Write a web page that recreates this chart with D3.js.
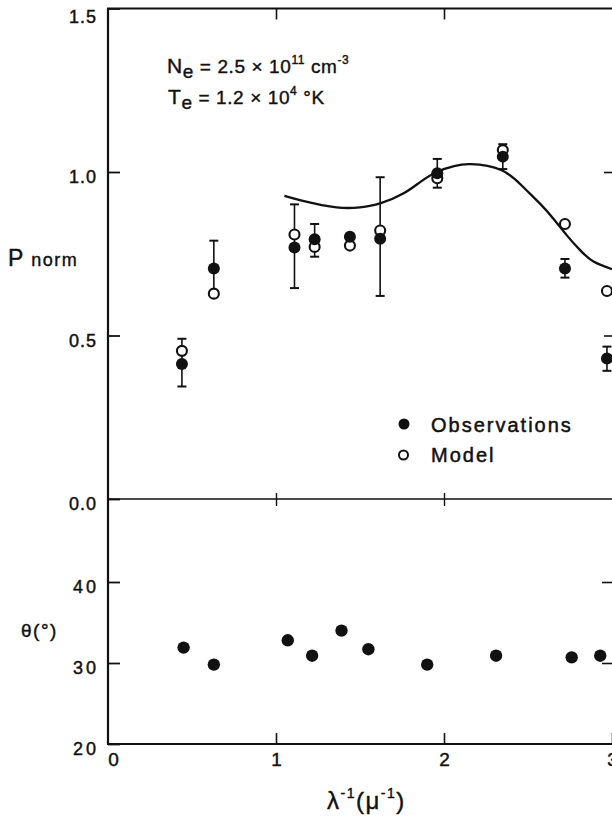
<!DOCTYPE html>
<html><head><meta charset="utf-8">
<script src="https://cdn.jsdelivr.net/npm/d3@7"></script>
<style>
body{margin:0;background:#fff;}
svg{display:block;}
text{font-family:"Liberation Sans",Arial,sans-serif;fill:#111;}
</style></head>
<body><svg id="c" width="612" height="816"></svg>
<script>
// ---- data ----
const obsX   = [0.44, 0.63, 1.11, 1.23, 1.44, 1.62, 1.96, 2.35, 2.72, 2.97];
const obsP   = [0.413, 0.705, 0.769, 0.794, 0.802, 0.796, 0.996, 1.047, 0.705, 0.430];
const errLo  = [0.344, 0.620, 0.645, 0.741, null, 0.621, 0.952, 1.009, 0.677, 0.392];
const errHi  = [0.490, 0.790, 0.901, 0.841, null, 0.984, 1.040, 1.085, 0.734, 0.466];
const modelP = [0.453, 0.628, 0.809, 0.771, 0.775, 0.821, 0.981, 1.067, 0.841, 0.636];
const curveX = [1.05, 1.16, 1.36, 1.50, 1.62, 1.76, 1.86, 1.96, 2.06, 2.16, 2.34, 2.47, 2.57, 2.65, 2.73, 2.81, 2.89, 3.00];
const curveP = [0.927, 0.912, 0.892, 0.892, 0.904, 0.935, 0.970, 1.001, 1.018, 1.024, 1.006, 0.955, 0.904, 0.858, 0.807, 0.761, 0.726, 0.703];
const thetaX = [0.45, 0.63, 1.07, 1.215, 1.39, 1.55, 1.90, 2.31, 2.76, 2.93];
const thetaV = [31.9, 29.8, 32.8, 30.9, 34.0, 31.7, 29.8, 30.9, 30.7, 30.9];
const xTicks = [0, 1, 2, 3];
const pTicks = [0.0, 0.5, 1.0, 1.5];
const tTicks = [20, 30, 40];

const svg = d3.select("#c");
const x  = d3.scaleLinear().domain([0, 3]).range([108, 612]);
const yP = d3.scaleLinear().domain([0, 1.5]).range([499, 8.5]);
const yT = d3.scaleLinear().domain([20, 50]).range([744, 501]);

function styleAxis(g, sw){
  g.select(".domain").remove();
  g.selectAll(".tick line").attr("stroke","#111").attr("stroke-width",sw||1.6);
  g.selectAll("text").attr("fill","#111").style("font-size","18px")
   .style("font-family",'"Liberation Sans",Arial,sans-serif').attr("stroke","#111").attr("stroke-width",0.45);
}

// frame lines
const frame = svg.append("g").attr("stroke","#111").attr("fill","none");
frame.append("line").attr("x1",x(0)).attr("x2",x(0)).attr("y1",yP(1.5)).attr("y2",yT(20)).attr("stroke-width",2.2);
frame.append("line").attr("x1",x(0)-1).attr("x2",612).attr("y1",yP(1.5)).attr("y2",yP(1.5)).attr("stroke-width",2.2);
frame.append("line").attr("x1",x(0)).attr("x2",612).attr("y1",yP(0)).attr("y2",yP(0)).attr("stroke-width",1.6);
frame.append("line").attr("x1",x(0)-1).attr("x2",612).attr("y1",yT(20)).attr("y2",yT(20)).attr("stroke-width",2.2);
frame.append("line").attr("x1",x(3)+0.6).attr("x2",x(3)+0.6).attr("y1",yP(0)).attr("y2",yT(20)).attr("stroke-width",1.2).attr("stroke","#999");

// left axes
const gPL = svg.append("g").attr("transform",`translate(${x(0)},0)`)
  .call(d3.axisLeft(yP).tickValues(pTicks).tickFormat(d3.format(".1f")).tickSize(-12).tickPadding(11));
styleAxis(gPL, 1.8);
gPL.selectAll("text").attr("dy","0.6em").attr("letter-spacing","1px");
gPL.selectAll(".tick").filter(d=>d===1.5).select("text").attr("dy","0.8em");
const gTL = svg.append("g").attr("transform",`translate(${x(0)},0)`)
  .call(d3.axisLeft(yT).tickValues(tTicks).tickSize(-12).tickPadding(9));
styleAxis(gTL, 1.8);
gTL.selectAll("text").attr("dy","0.6em").attr("letter-spacing","3px");

// right axes (no labels)
const gPR = svg.append("g").attr("transform",`translate(${x(3)},0)`)
  .call(d3.axisRight(yP).tickValues([0.5,1.0]).tickSize(-8).tickFormat(""));
styleAxis(gPR, 1.6);
const gTR = svg.append("g").attr("transform",`translate(${x(3)},0)`)
  .call(d3.axisRight(yT).tickValues([30,40]).tickSize(-10).tickFormat(""));
styleAxis(gTR, 1.6);

// bottom axis
const gB = svg.append("g").attr("transform",`translate(0,${yT(20)})`)
  .call(d3.axisBottom(x).tickValues(xTicks).tickSize(-11).tickPadding(9).tickFormat(d3.format("d")));
styleAxis(gB, 1.6);
gB.selectAll("text").style("font-size","19px");
gB.selectAll(".tick").filter(d=>d===0).select("line").remove();
gB.selectAll(".tick").filter(d=>d===0).select("text").attr("x",5);
// top axis ticks
const gT = svg.append("g").attr("transform",`translate(0,${yP(1.5)})`)
  .call(d3.axisTop(x).tickValues([1,2]).tickSize(-11).tickFormat(""));
styleAxis(gT, 1.6);
// middle separator crossing ticks
const gM1 = svg.append("g").attr("transform",`translate(0,${yP(0)})`)
  .call(d3.axisTop(x).tickValues([1,2]).tickSize(6).tickFormat(""));
styleAxis(gM1, 1.4);
const gM2 = svg.append("g").attr("transform",`translate(0,${yP(0)})`)
  .call(d3.axisBottom(x).tickValues([1,2]).tickSize(7).tickFormat(""));
styleAxis(gM2, 1.4);

// model curve
const line = d3.line().x(d=>x(d[0])).y(d=>yP(d[1])).curve(d3.curveNatural);
svg.append("path").datum(d3.zip(curveX, curveP)).attr("d", line)
  .attr("fill","none").attr("stroke","#111").attr("stroke-width",2.3);

// error bars
const eb = svg.append("g").attr("stroke","#111").attr("stroke-width",1.6);
obsX.forEach((xv,i)=>{
  if(errLo[i]==null) return;
  eb.append("line").attr("x1",x(xv)).attr("x2",x(xv)).attr("y1",yP(errLo[i])).attr("y2",yP(errHi[i]));
  [errLo[i],errHi[i]].forEach(v=>{
    eb.append("line").attr("x1",x(xv)-4.5).attr("x2",x(xv)+4.5).attr("y1",yP(v)).attr("y2",yP(v)).attr("stroke-width",2);
  });
});

// model (open) circles
svg.append("g").selectAll("circle").data(d3.zip(obsX, modelP)).join("circle")
  .attr("cx",d=>x(d[0])).attr("cy",d=>yP(d[1])).attr("r",5)
  .attr("fill","#fff").attr("stroke","#111").attr("stroke-width",2.1);
// observation (filled) circles
svg.append("g").selectAll("circle").data(d3.zip(obsX, obsP)).join("circle")
  .attr("cx",d=>x(d[0])).attr("cy",d=>yP(d[1])).attr("r",6)
  .attr("fill","#111");
// theta points
svg.append("g").selectAll("circle").data(d3.zip(thetaX, thetaV)).join("circle")
  .attr("cx",d=>x(d[0])).attr("cy",d=>yT(d[1])).attr("r",6.2)
  .attr("fill","#111");

// legend
svg.append("circle").attr("cx",404).attr("cy",424).attr("r",5.5).attr("fill","#111");
svg.append("circle").attr("cx",403.5).attr("cy",455).attr("r",4.5).attr("fill","#fff").attr("stroke","#111").attr("stroke-width",2);
svg.append("text").attr("x",431).attr("y",432).style("font-size","20px").attr("letter-spacing","2px")
  .attr("stroke","#111").attr("stroke-width",0.5).text("Observations");
svg.append("text").attr("x",431).attr("y",462).style("font-size","20px").attr("letter-spacing","2px")
  .attr("stroke","#111").attr("stroke-width",0.5).text("Model");

// annotation
function rich(xp, yp, parts){
  const t = svg.append("text").attr("x",xp).attr("y",yp).attr("stroke","#111").attr("stroke-width",0.4);
  parts.forEach(p=>{
    t.append("tspan").attr("dy",p.dy||0).style("font-size",p.s+"px").text(p.t);
  });
  return t;
}
rich(167, 73, [
  {t:"N",s:21},{t:"e",s:19,dy:5},{t:" = 2.5 × 10",s:19,dy:-5},{t:"11",s:12,dy:-9},
  {t:" cm",s:19,dy:9},{t:"-3",s:12,dy:-9}
]).attr("letter-spacing","0.6px");
rich(168, 104, [
  {t:"T",s:21},{t:"e",s:19,dy:5},{t:"  = 1.2 × 10",s:19,dy:-5},{t:"4",s:12,dy:-9},
  {t:" °K",s:19,dy:9}
]).attr("letter-spacing","0.6px");

// axis titles
rich(8, 266, [{t:"P",s:23},{t:" norm",s:18}]).attr("letter-spacing","1.5px");
rich(21, 637, [{t:"θ(°)",s:19}]).attr("letter-spacing","1.5px");
rich(327, 809, [{t:"λ",s:24},{t:"-1",s:14,dy:-11},{t:"(",s:24,dy:11},{t:"μ",s:24},{t:"-1",s:14,dy:-11},{t:")",s:24,dy:11}]).attr("letter-spacing","1.5px");
</script></body></html>
